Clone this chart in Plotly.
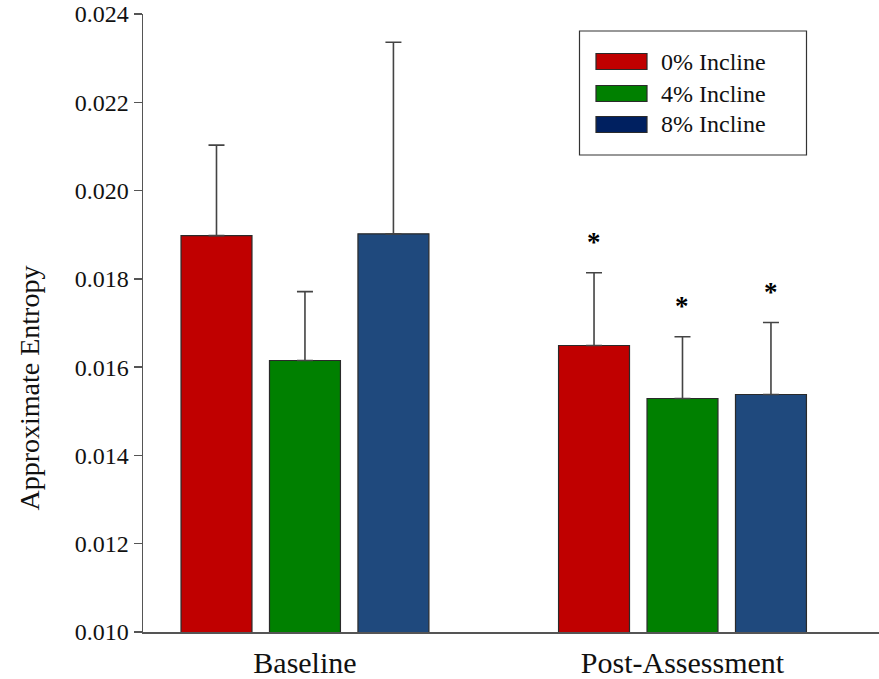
import plotly.graph_objects as go

# ---- data ----
categories = ["Baseline", "Post-Assessment"]
series_names = ["0% Incline", "4% Incline", "8% Incline"]
mean_0 = [0.01898, 0.01649]
mean_4 = [0.01615, 0.01529]
mean_8 = [0.01902, 0.01538]
sd_0 = [0.00205, 0.00165]
sd_4 = [0.00156, 0.00140]
sd_8 = [0.00434, 0.00163]
significant_0 = [False, True]
significant_4 = [False, True]
significant_8 = [False, True]
y_ticks = [0.010, 0.012, 0.014, 0.016, 0.018, 0.020, 0.022, 0.024]

bar_colors = ["#C00000", "#008000", "#1F497D"]
legend_colors = ["#C00000", "#008000", "#002060"]

means = [mean_0, mean_4, mean_8]
sds = [sd_0, sd_4, sd_8]
sigs = [significant_0, significant_4, significant_8]

FONT = "Liberation Serif"
W, H = 879, 679
ML, MR, MT, MB = 143, 0, 14, 47
PW, PH = W - ML - MR, H - MT - MB

BARGAP = 0.297
BARGROUPGAP = 0.198

fig = go.Figure()
for name, m, s, c in zip(series_names, means, sds, bar_colors):
    fig.add_trace(go.Bar(
        x=categories, y=m, name=name, showlegend=False,
        marker=dict(color=c, line=dict(color="#2a2a2a", width=1.2)),
        error_y=dict(type="data", symmetric=False, array=s,
                     arrayminus=[0] * len(s), color="#444444",
                     thickness=1.6, width=8),
        hoverinfo="skip",
    ))

# significance asterisks
slot = (1 - BARGAP) / len(series_names)
annotations = []
for k, (m, s, sg) in enumerate(zip(means, sds, sigs)):
    off = (k - (len(series_names) - 1) / 2) * slot
    for i, cat in enumerate(categories):
        if sg[i]:
            annotations.append(dict(
                x=i + off, y=m[i] + s[i], xref="x", yref="y",
                text="<b>*</b>", showarrow=False, yanchor="bottom",
                yshift=14, font=dict(family=FONT, size=27, color="#000000")))

# y-axis title
annotations.append(dict(
    x=(29 - ML) / PW, y=(H - MB - 388.5) / PH, xref="paper", yref="paper",
    text="Approximate Entropy", textangle=-90, showarrow=False,
    xanchor="center", yanchor="middle",
    font=dict(family=FONT, size=28, color="#111111")))

# manual legend
def px_x(p):
    return (p - ML) / PW

def px_y(p):
    return (H - MB - p) / PH

shapes = [dict(type="rect", xref="paper", yref="paper",
               x0=px_x(579.5), x1=px_x(806.5), y0=px_y(155), y1=px_y(31),
               line=dict(color="#333333", width=1.2), fillcolor="white")]
row_centers = [61.5, 93.5, 124.5]
for name, c, yc in zip(series_names, legend_colors, row_centers):
    shapes.append(dict(type="rect", xref="paper", yref="paper",
                       x0=px_x(596), x1=px_x(647), y0=px_y(yc + 8), y1=px_y(yc - 8),
                       line=dict(color="#2a2a2a", width=1.2), fillcolor=c))
    annotations.append(dict(x=px_x(659), y=px_y(yc), xref="paper", yref="paper",
                            text=name, showarrow=False, xanchor="left",
                            yanchor="middle",
                            font=dict(family=FONT, size=24, color="#111111")))

fig.update_layout(
    width=W, height=H,
    margin=dict(l=ML, r=MR, t=MT, b=MB, autoexpand=False),
    paper_bgcolor="white", plot_bgcolor="white",
    barmode="group", bargap=BARGAP, bargroupgap=BARGROUPGAP,
    font=dict(family=FONT, color="#111111"),
    shapes=shapes, annotations=annotations,
    xaxis=dict(
        type="category", range=[-0.429, 1.5205],
        showline=True, linecolor="#555555", linewidth=1.5,
        ticks="outside", ticklen=3, tickcolor="rgba(0,0,0,0)",
        tickfont=dict(family=FONT, size=30, color="#111111"),
        showgrid=False, zeroline=False,
    ),
    yaxis=dict(
        range=[0.010, 0.024], tickvals=y_ticks, tickformat=".3f",
        showline=True, linecolor="#555555", linewidth=1.5,
        ticks="outside", ticklen=8, tickcolor="#555555", tickwidth=1.5,
        tickfont=dict(family=FONT, size=24, color="#111111"),
        showgrid=False, zeroline=False,
    ),
)

fig.write_html("out.html", config={"displayModeBar": False, "staticPlot": True},
               post_script="document.body.style.margin='0px';document.body.style.padding='0px';")
